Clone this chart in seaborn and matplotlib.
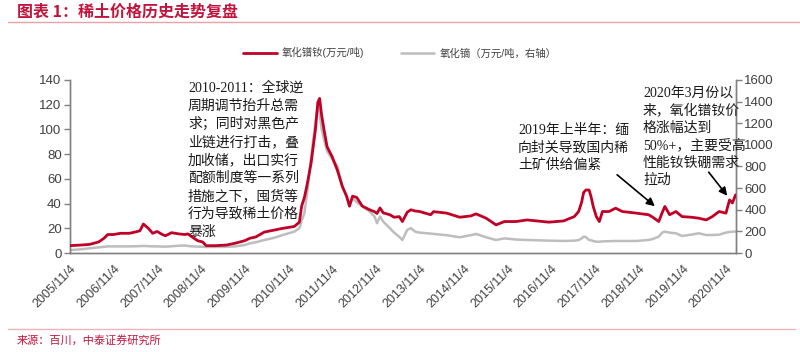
import pandas as pd
import numpy as np
import matplotlib.pyplot as plt
import seaborn as sns

# 数据：日期、氧化镨钕（万元/吨，左轴）、氧化镝（万元/吨，右轴）
dates = [
    '2005-11-04', '2006-02-01', '2006-04-15', '2006-07-01', '2006-08-15', '2006-09-15',
    '2006-11-01', '2007-01-01', '2007-03-15', '2007-05-01', '2007-06-10', '2007-07-10',
    '2007-08-20', '2007-09-25', '2007-11-01', '2007-12-15', '2008-01-10', '2008-03-01',
    '2008-05-01', '2008-06-20', '2008-07-15', '2008-08-20', '2008-10-05', '2008-11-15',
    '2008-12-15', '2009-03-01', '2009-06-01', '2009-08-15', '2009-11-01', '2009-12-15',
    '2010-02-01', '2010-04-15', '2010-07-01', '2010-09-15', '2010-12-20', '2011-02-01',
    '2011-02-20', '2011-03-15', '2011-04-10', '2011-05-10', '2011-06-15', '2011-07-05',
    '2011-07-20', '2011-08-05', '2011-08-25', '2011-09-20', '2011-11-01', '2011-12-15',
    '2012-01-25', '2012-03-01', '2012-03-25', '2012-04-20', '2012-05-25', '2012-07-10',
    '2012-09-10', '2012-10-20', '2012-11-10', '2012-12-05', '2013-01-01', '2013-02-25',
    '2013-04-01', '2013-05-15', '2013-06-10', '2013-07-20', '2013-08-20', '2013-09-25',
    '2013-11-01', '2014-02-01', '2014-02-25', '2014-06-15', '2014-10-01', '2015-01-01',
    '2015-02-15', '2015-05-10', '2015-08-01', '2015-10-10', '2016-01-15', '2016-04-15',
    '2016-10-15', '2017-02-15', '2017-05-15', '2017-06-20', '2017-07-15', '2017-08-01',
    '2017-08-20', '2017-09-15', '2017-10-01', '2017-10-20', '2017-11-15', '2017-12-10',
    '2018-01-05', '2018-03-01', '2018-04-25', '2018-06-20', '2018-10-15', '2019-01-25',
    '2019-03-01', '2019-04-20', '2019-05-20', '2019-06-10', '2019-07-20', '2019-09-10',
    '2019-11-01', '2020-01-15', '2020-03-20', '2020-05-20', '2020-07-10', '2020-09-05',
    '2020-11-01', '2020-12-01', '2020-12-25', '2021-01-20',
]
prnd_price = [
    6, 6.5, 7, 9, 12, 15,
    15, 16, 16, 17, 18, 23.5,
    20, 16, 17.5, 15, 14, 16.5,
    15.5, 15, 15.5, 13, 10, 9,
    6, 6, 6.5, 8, 10, 12,
    13, 17, 18.5, 20, 21.5, 25,
    38, 45, 57, 73, 100, 122,
    125, 112, 100, 86, 78, 67,
    54, 46, 38, 46, 45, 38,
    35, 33.5, 32, 36.5, 32.5, 31,
    29, 29.5, 25.5, 33, 35, 34,
    33.6, 31, 33.5, 32.3, 29, 30,
    31.7, 28.2, 22.8, 25.5, 25.5, 26.8,
    25, 26, 29.5, 33.6, 41, 49,
    51, 51, 46, 37.7, 29.5, 25.5,
    33.6, 33.6, 36.3, 33.6, 32.3, 31,
    29, 25.5, 33, 37.7, 31, 33.6,
    29.5, 29, 28.2, 26.8, 29.5, 33.6,
    32.3, 43, 40.5, 47,
]
dy_price = [
    28, 35, 44, 53, 58, 62,
    62, 62, 62, 63, 64, 66,
    64, 62, 62, 60, 60, 63,
    68, 70, 66, 62, 60, 58,
    56, 57, 58, 62, 74, 90,
    100, 121, 140, 167, 198, 230,
    300, 369, 586, 896, 1206, 1361,
    1300, 1150, 1051, 942, 870, 803,
    617, 524, 431, 509, 470, 431,
    384, 338, 276, 338, 291, 230,
    190, 150, 121, 214, 230, 198,
    189, 180, 177, 165, 146, 165,
    177, 146, 121, 136, 125, 121,
    115, 112, 115, 120, 135, 152,
    148, 121, 118, 112, 105, 105,
    108, 110, 112, 112, 112, 121,
    130, 152, 190, 198, 189, 183,
    158, 170, 183, 167, 167, 170,
    189, 195, 198, 198,
]
tick_years = list(range(2005, 2021))
tick_labels = [f'{y}/11/4' for y in tick_years]

note_2011 = ['2010-2011：全球逆', '周期调节抬升总需', '求；同时对黑色产', '业链进行打击，叠',
             '加收储，出口实行', '配额制度等一系列', '措施之下，囤货等', '行为导致稀土价格', '暴涨']
note_2019 = ['2019年上半年：缅', '向封关导致国内稀', '土矿供给偏紧']
note_2020 = ['2020年3月份以', '来，氧化镨钕价', '格涨幅达到', '50%+，主要受高', '性能钕铁硼需求', '拉动']

df = pd.DataFrame({'date': pd.to_datetime(dates), 'prnd': prnd_price, 'dy': dy_price})

sns.set_theme(style='white')
plt.rcParams['font.family'] = ['Liberation Sans', 'Noto Sans CJK SC', 'DejaVu Sans']
plt.rcParams['axes.unicode_minus'] = False

RED = '#C00027'
GRAY = '#BDBDBD'
AXC = '#808080'
TXT = '#404040'
W, H = 800, 352

fig = plt.figure(figsize=(8, 3.52), dpi=100)
ax = fig.add_axes([0.0875, 0.281, 0.8325, 0.492])
ax2 = ax.twinx()

sns.lineplot(data=df, x='date', y='prnd', ax=ax, color=RED, lw=2.0, label='氧化镨钕(万元/吨)', legend=False, zorder=3)
sns.lineplot(data=df, x='date', y='dy', ax=ax2, color=GRAY, lw=1.8, label='氧化镝（万元/吨，右轴）', legend=False, zorder=2)
ax.set_zorder(ax2.get_zorder() + 1)
ax.patch.set_visible(False)

ax.set_xlim(pd.Timestamp('2005-11-04'), pd.Timestamp('2021-01-24'))
ax.set_ylim(0, 140)
ax2.set_ylim(0, 1600)
ax.set_yticks(np.arange(0, 141, 20))
ax2.set_yticks(np.arange(0, 1601, 200))
ax.set_xticks([pd.Timestamp(f'{y}-11-04') for y in tick_years])
ax.set_xticklabels(tick_labels, rotation=45, ha='right', rotation_mode='anchor')
ax.set_xlabel('')
ax.set_ylabel('')
ax2.set_ylabel('')

for a in (ax, ax2):
    a.spines['top'].set_visible(False)
    for s in ['left', 'right', 'bottom']:
        a.spines[s].set_color(AXC)
        a.spines[s].set_linewidth(1.0)
    a.tick_params(axis='both', which='both', direction='out', length=4, width=1,
                  color=AXC, labelcolor=TXT, labelsize=9.5, pad=2)
ax.tick_params(axis='x', pad=3, labelsize=9)
ax.grid(False)
ax2.grid(False)

# 图例
h1, l1 = ax.get_legend_handles_labels()
h2, l2 = ax2.get_legend_handles_labels()
fig.legend(h1 + h2, l1 + l2, loc='center', bbox_to_anchor=(0.5, 0.85), ncol=2,
           frameon=False, fontsize=7.5, handlelength=3.2, columnspacing=3.5,
           handletextpad=0.5, labelcolor=TXT)

# 注释：逐行放置，行距以像素计
note_font = ['Liberation Serif', 'Noto Sans CJK SC']


def put_lines(lines, x_px, y0_px, step_px):
    for i, line in enumerate(lines):
        fig.text(x_px / W, 1 - (y0_px + i * step_px) / H, line, family=note_font,
                 fontsize=10, color='#1a1a1a', va='center', ha='left')


put_lines(note_2011, 188, 88, 18.0)
put_lines(note_2019, 518, 130, 17.5)
put_lines(note_2020, 643, 94, 17.3)

fig.add_artist(plt.matplotlib.patches.FancyArrowPatch(
    (615 / W, 1 - 173 / H), (657 / W, 1 - 208 / H), transform=fig.transFigure,
    arrowstyle='-|>', mutation_scale=12, color='black', lw=1.2))
fig.add_artist(plt.matplotlib.patches.FancyArrowPatch(
    (707 / W, 1 - 170 / H), (729 / W, 1 - 198 / H), transform=fig.transFigure,
    arrowstyle='-|>', mutation_scale=12, color='black', lw=1.2))

# 标题和来源
fig.text(17 / W, 1 - 12 / H, '图表 1：稀土价格历史走势复盘', fontsize=11.5, fontweight='bold',
         color='#C0143C', va='center', ha='left', family=['Noto Sans CJK SC'])
fig.add_artist(plt.Line2D([8 / W, 1.0], [1 - 22 / H] * 2, transform=fig.transFigure,
                          color='#E9A3A8', lw=1.0))
fig.add_artist(plt.Line2D([8 / W, 795 / W], [1 - 329 / H] * 2, transform=fig.transFigure,
                          color='#F0B4B8', lw=1.0))
fig.text(17 / W, 1 - 340 / H, '来源：百川，中泰证券研究所', fontsize=8, color='#C0143C',
         va='center', ha='left', family=['Noto Sans CJK SC'])

plt.savefig('out.png', dpi=100)
